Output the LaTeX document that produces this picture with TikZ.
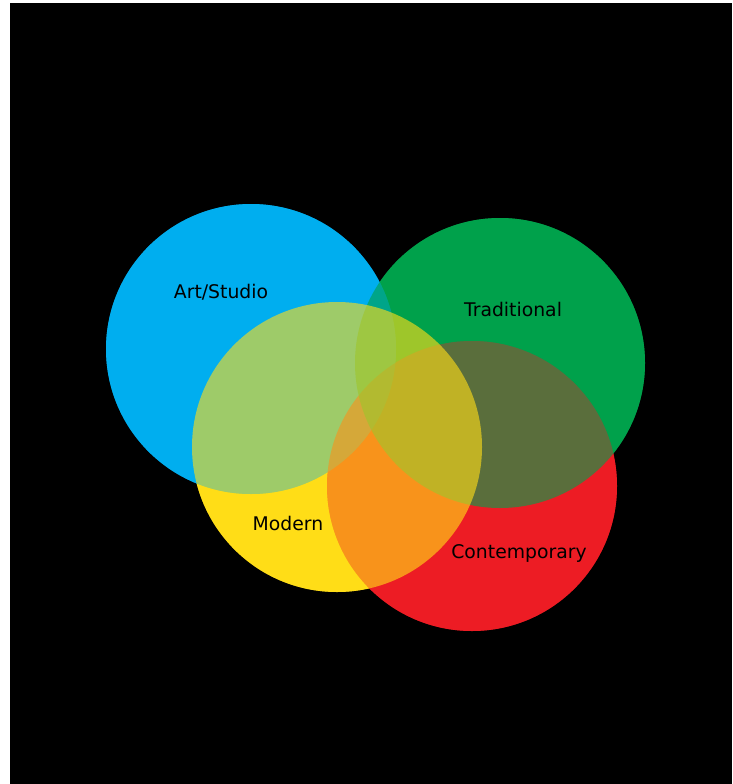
\documentclass[tikz,border=0pt]{standalone}
\usepackage{fontspec}
\setmainfont{DejaVu Sans}
\definecolor{vblue}{RGB}{0,174,239}
\definecolor{vgreen}{RGB}{0,161,75}
\definecolor{vyellow}{RGB}{255,221,23}
\definecolor{vred}{RGB}{237,28,36}
\tikzset{
  lbl/.style={text=black,font=\fontsize{18.8}{22}\selectfont,inner sep=0pt},
  blend/.style={fill opacity=0.62}
}
\begin{document}
\begin{tikzpicture}[x=1pt,y=-1pt]
\useasboundingbox (0,0) rectangle (732,784);
\fill[white] (0,0) rectangle (732,784);
\fill[black] (10,3) rectangle (732,784);
\coordinate (cb) at (251,349);
\coordinate (cg) at (500,363);
\coordinate (cy) at (337,447);
\coordinate (cr) at (472,486);
% opaque base, reverse order
\fill[vyellow] (cy) circle (145);
\fill[vgreen] (cg) circle (145);
\fill[vred] (cr) circle (145);
\fill[vblue] (cb) circle (145);
% translucent layers, forward order
\fill[vblue,blend] (cb) circle (145);
\fill[vred,blend] (cr) circle (145);
\fill[vgreen,blend] (cg) circle (145);
\fill[vyellow,blend] (cy) circle (145);
\node[lbl] (art) at (221,292) {Art/Studio};
\node[lbl] (trad) at (513,309) {Traditional};
\node[lbl] (mod) at (288,523) {Modern};
\node[lbl] (con) at (519,553) {Contemporary};
\end{tikzpicture}
\end{document}
